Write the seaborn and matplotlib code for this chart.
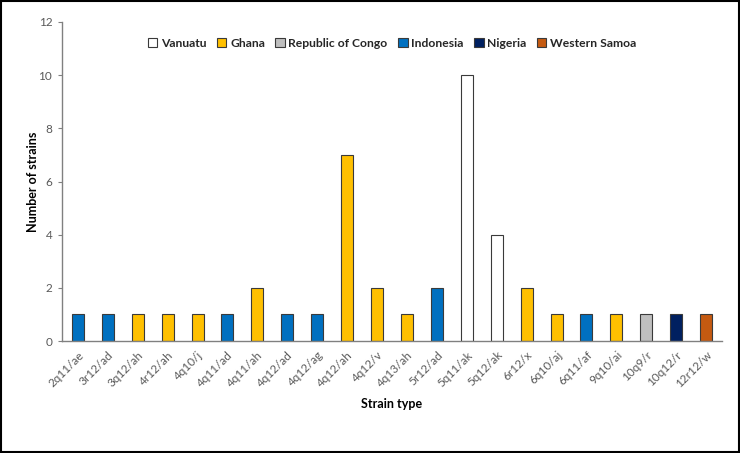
import matplotlib
matplotlib.use("Agg")
import matplotlib.pyplot as plt
import seaborn as sns
import pandas as pd
from matplotlib.patches import Rectangle

strains = ["2q11/ae", "3r12/ad", "3q12/ah", "4r12/ah", "4q10/j", "4q11/ad", "4q11/ah",
           "4q12/ad", "4q12/ag", "4q12/ah", "4q12/v", "4q13/ah", "5r12/ad", "5q11/ak",
           "5q12/ak", "6r12/x", "6q10/aj", "6q11/af", "9q10/ai", "10q9/r", "10q12/r", "12r12/w"]
counts = [1, 1, 1, 1, 1, 1, 2, 1, 1, 7, 2, 1, 2, 10, 4, 2, 1, 1, 1, 1, 1, 1]
countries = ["Indonesia", "Indonesia", "Ghana", "Ghana", "Ghana", "Indonesia", "Ghana",
             "Indonesia", "Indonesia", "Ghana", "Ghana", "Ghana", "Indonesia", "Vanuatu",
             "Vanuatu", "Ghana", "Ghana", "Indonesia", "Ghana", "Republic of Congo",
             "Nigeria", "Western Samoa"]
country_order = ["Vanuatu", "Ghana", "Republic of Congo", "Indonesia", "Nigeria", "Western Samoa"]
country_colors = ["#FFFFFF", "#FFC000", "#BFBFBF", "#0070C0", "#002060", "#C55A11"]
yticks = [0, 2, 4, 6, 8, 10, 12]

df = pd.DataFrame({"Strain": strains, "Count": counts, "Country": countries})

sns.set_style("white")
plt.rcParams["font.family"] = ["Lato", "DejaVu Sans"]

fig = plt.figure(figsize=(7.4, 4.53), dpi=100)
ax = fig.add_axes([62 / 740, 112 / 453, 660 / 740, 319 / 453])

sns.barplot(data=df, x="Strain", y="Count", hue="Country", hue_order=country_order,
            palette=dict(zip(country_order, country_colors)), dodge=False, width=0.4,
            order=strains, edgecolor="#3a3a3a", linewidth=0.8, ax=ax, saturation=1)

ax.set_xlim(-0.53, len(strains) - 0.47)
ax.set_ylim(0, 12)
ax.set_yticks(yticks)
ax.set_yticklabels([str(t) for t in yticks], color="#595959", fontsize=8.5)
ax.set_xticks(range(len(strains)))
ax.set_xticklabels(strains, rotation=45, ha="right", rotation_mode="anchor",
                   color="#595959", fontsize=8.5)
ax.tick_params(axis="x", length=0, pad=6)
ax.tick_params(axis="y", length=3, color="#808080", left=True, pad=4)
for s in ["top", "right"]:
    ax.spines[s].set_visible(False)
for s in ["left", "bottom"]:
    ax.spines[s].set_color("#808080")
    ax.spines[s].set_linewidth(1)

ax.set_xlabel("Strain type", fontsize=9, fontweight="bold", color="black", labelpad=6)
ax.set_ylabel("Number of strains", fontsize=9, fontweight="bold", color="black", labelpad=0)

leg = ax.legend(loc="upper center", bbox_to_anchor=(0.5, 0.985), ncol=6, frameon=False,
                fontsize=8.7, handlelength=0.8, handleheight=0.8, handletextpad=0.3,
                columnspacing=0.85)
for t in leg.get_texts():
    t.set_fontweight("bold")
    t.set_color("#262626")

fig.patches.append(Rectangle((0.001, 0.002), 0.997, 0.996, transform=fig.transFigure,
                             fill=False, edgecolor="black", linewidth=1.5))

fig.savefig("out.png", dpi=100)
